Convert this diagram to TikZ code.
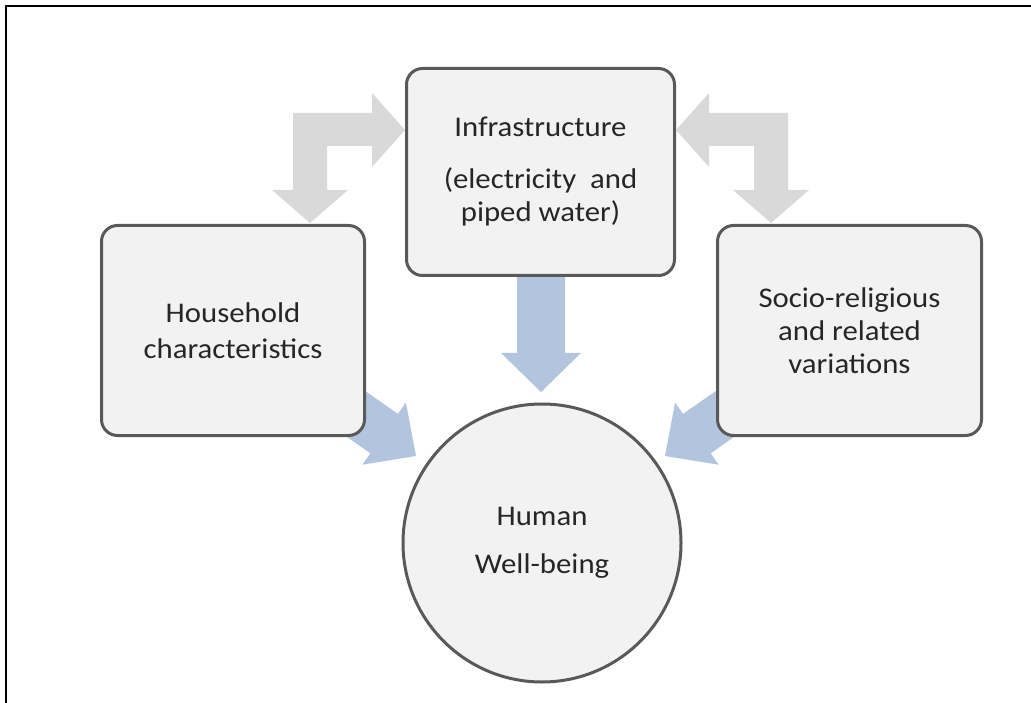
\documentclass[tikz,border=0pt]{standalone}
\usepackage{fontspec}
\setmainfont{Carlito}[FakeStretch=1.08]
\usepackage{xcolor}
\usetikzlibrary{positioning}
\definecolor{boxfill}{RGB}{242,242,242}
\definecolor{boxline}{RGB}{89,89,89}
\definecolor{txtcol}{RGB}{38,38,38}
\definecolor{grayarr}{RGB}{217,217,217}
\definecolor{bluearr}{RGB}{179,196,222}

\begin{document}
\begin{tikzpicture}[x=1pt, y=-1pt,
  box/.style={draw=boxline, line width=3pt, fill=boxfill, rounded corners=16pt,
              align=center, inner sep=0pt, text=txtcol,
              font=\fontsize{28.5}{33}\selectfont},
  ball/.style={box, circle, rounded corners=0pt, minimum size=278pt},
  grayblk/.style={fill=grayarr},
  blueblk/.style={fill=bluearr}]
\useasboundingbox (0,0) rectangle (1031,703);
% frame
\draw[line width=2pt] (6,703) -- (6,6.5) -- (1031,6.5);
% block arrows (behind the boxes)
\fill[grayblk] (293,113) -- (372,113) -- (372,93) -- (405,130) -- (372,167)
  -- (372,146) -- (327,146) -- (327,190) -- (348,190) -- (310,223)
  -- (272,190) -- (293,190) -- cycle;
\fill[grayblk] (788,113) -- (709,113) -- (709,93) -- (676,130) -- (709,167)
  -- (709,146) -- (754,146) -- (754,190) -- (733,190) -- (771,223)
  -- (809,190) -- (788,190) -- cycle;
\fill[blueblk] (517,260) -- (565,260) -- (565,353) -- (581,353) -- (541,392)
  -- (501,353) -- (517,353) -- cycle;
\fill[blueblk] (332.4,368) -- (397.9,413.9) -- (405.9,402.5) -- (416,456)
  -- (362.3,464.7) -- (370.3,453.3) -- (304.8,407.4) -- cycle;
\fill[blueblk] (748.6,368) -- (683.1,413.9) -- (675.1,402.5) -- (665,456)
  -- (718.7,464.7) -- (710.7,453.3) -- (776.2,407.4) -- cycle;
% boxes
\node[box, minimum width=268pt, minimum height=207pt] (infra) at (540.5,172)
  {Infrastructure\\[19pt](electricity\ \ and\\piped water)};
\node[box, minimum width=263pt, minimum height=210pt] (house) at (233,330.5)
  {Household\\[3pt]characteristics};
\node[box, minimum width=264pt, minimum height=210pt] (socio) at (849.5,330.5)
  {Socio-religious\\and related\\variations};
\node[ball] (human) at (542,543) {Human\\[15pt]Well-being};
\end{tikzpicture}
\end{document}
